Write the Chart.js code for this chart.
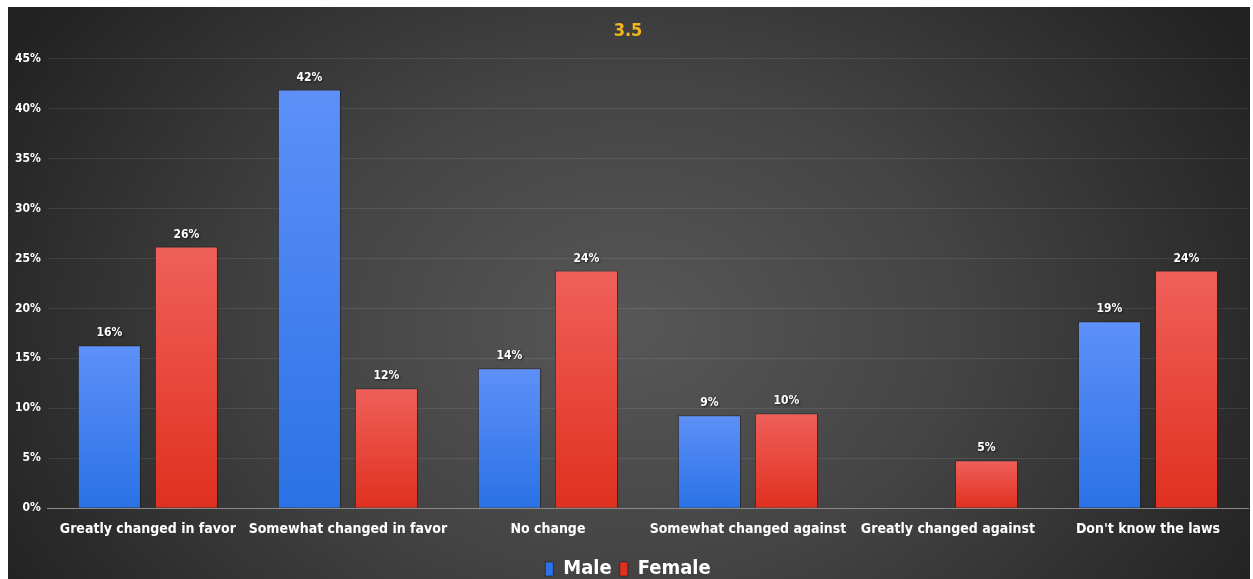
<!DOCTYPE html>
<html>
<head>
<meta charset="utf-8">
<script src="https://cdn.jsdelivr.net/npm/chart.js@4.4.1/dist/chart.umd.min.js"></script>
<style>
  html, body { margin: 0; padding: 0; background: #ffffff; overflow: hidden; }
  #wrap { position: absolute; left: 8px; top: 7px; width: 1242px; height: 582px; }
</style>
</head>
<body>
<div id="wrap"><canvas id="c"></canvas></div>
<script>
const categories = ["Greatly changed in favor", "Somewhat changed in favor", "No change", "Somewhat changed against", "Greatly changed against", "Don't know the laws"];
const maleValues = [16.3, 41.9, 14.0, 9.3, null, 18.7];
const femaleValues = [26.2, 12.0, 23.8, 9.5, 4.8, 23.8];
const seriesNames = ["Male", "Female"];
const titleText = "3.5";

const FONT = "'DejaVu Sans Condensed', 'Liberation Sans', sans-serif";

function barGradient(ctx, top, bottom) {
  const chart = ctx.chart;
  const area = chart.chartArea;
  if (!area) return bottom;
  const v = ctx.raw;
  if (v == null) return bottom;
  const ys = chart.scales.y;
  const y0 = ys.getPixelForValue(v);
  const y1 = ys.getPixelForValue(0);
  const g = chart.ctx.createLinearGradient(0, y0, 0, y1);
  g.addColorStop(0, top);
  g.addColorStop(1, bottom);
  return g;
}

const bgPlugin = {
  id: 'bg',
  beforeDraw(chart) {
    const c = chart.ctx, w = chart.width, h = chart.height;
    c.save();
    const sy = 1.6 * h / w;
    c.translate(w * 0.5, h * 0.55);
    c.scale(1, sy);
    const g = c.createRadialGradient(0, 0, 5, 0, 0, w * 0.58);
    g.addColorStop(0, '#575757');
    g.addColorStop(0.45, '#444444');
    g.addColorStop(1, '#222222');
    c.fillStyle = g;
    c.fillRect(-w, -h / sy, 2 * w, 2 * h / sy);
    c.restore();
  }
};

const labelPlugin = {
  id: 'vlabels',
  afterDatasetsDraw(chart) {
    const c = chart.ctx;
    c.save();
    c.font = "bold 12px " + FONT;
    c.fillStyle = '#ffffff';
    c.textAlign = 'center';
    c.textBaseline = 'bottom';
    c.shadowColor = 'rgba(0,0,0,0.6)';
    c.shadowBlur = 2;
    c.shadowOffsetX = 1; c.shadowOffsetY = 1;
    chart.data.datasets.forEach((ds, i) => {
      const meta = chart.getDatasetMeta(i);
      meta.data.forEach((bar, j) => {
        const v = ds.data[j];
        if (v == null) return;
        c.fillText(Math.round(v) + '%', bar.x, bar.y - 6);
      });
    });
    c.restore();
  }
};

new Chart(document.getElementById('c'), {
  type: 'bar',
  data: {
    labels: categories,
    datasets: [
      {
        label: seriesNames[0],
        data: maleValues,
        backgroundColor: (ctx) => barGradient(ctx, '#5e90f8', '#2a72e6'),
        borderColor: 'rgba(20,20,20,0.5)',
        borderWidth: 1,
        categoryPercentage: 0.77,
        barPercentage: 0.82
      },
      {
        label: seriesNames[1],
        data: femaleValues,
        backgroundColor: (ctx) => barGradient(ctx, '#ef605a', '#e0301f'),
        borderColor: 'rgba(20,20,20,0.5)',
        borderWidth: 1,
        categoryPercentage: 0.77,
        barPercentage: 0.82
      }
    ]
  },
  options: {
    responsive: true,
    maintainAspectRatio: false,
    animation: false,
    layout: { padding: { left: 0, right: 2, top: 12, bottom: 0 } },
    plugins: {
      title: {
        display: true,
        text: titleText,
        color: '#f2b51c',
        font: { family: FONT, size: 18, weight: 'bold' },
        padding: { top: 2, bottom: 16 }
      },
      legend: {
        position: 'bottom',
        labels: {
          color: '#ffffff',
          font: { family: FONT, size: 20, weight: 'bold' },
          boxWidth: 8,
          boxHeight: 14,
          padding: 8
        }
      },
      tooltip: { enabled: false }
    },
    scales: {
      x: {
        grid: { display: false, drawTicks: false },
        border: { color: '#8a8a8a', width: 1 },
        ticks: {
          color: '#ffffff',
          font: { family: FONT, size: 14, weight: 'bold' },
          padding: 13,
          maxRotation: 0,
          autoSkip: false
        }
      },
      y: {
        min: 0,
        max: 45,
        grid: { color: 'rgba(255,255,255,0.09)', drawTicks: false },
        border: { display: false },
        ticks: {
          stepSize: 5,
          color: '#ffffff',
          font: { family: FONT, size: 12, weight: 'bold' },
          padding: 7,
          callback: (v) => v + '%'
        }
      }
    }
  },
  plugins: [bgPlugin, labelPlugin]
});
</script>
</body>
</html>
